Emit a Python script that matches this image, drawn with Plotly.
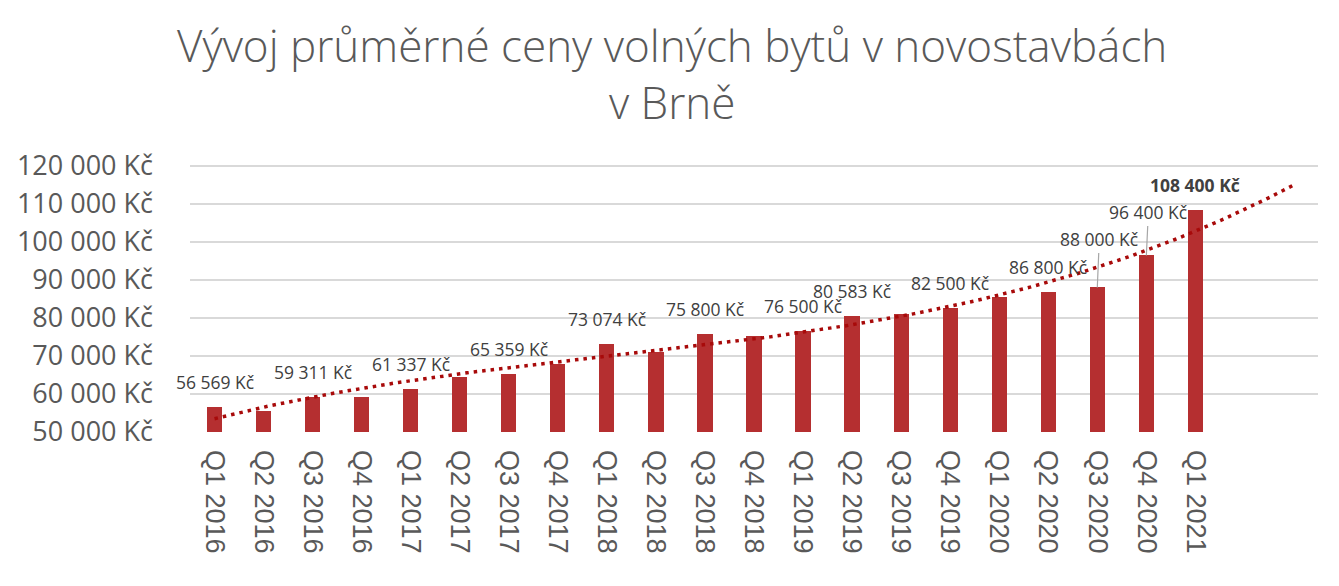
import numpy as np
import plotly.graph_objects as go

categories = ["Q1 2016", "Q2 2016", "Q3 2016", "Q4 2016", "Q1 2017", "Q2 2017", "Q3 2017",
              "Q4 2017", "Q1 2018", "Q2 2018", "Q3 2018", "Q4 2018", "Q1 2019", "Q2 2019",
              "Q3 2019", "Q4 2019", "Q1 2020", "Q2 2020", "Q3 2020", "Q4 2020", "Q1 2021"]
prices = [56569, 55500, 59311, 59300, 61337, 64500, 65359, 67900, 73074, 70900, 75800,
          75300, 76500, 80583, 80900, 82500, 85400, 86800, 88000, 96400, 108400]
labeled = [0, 2, 4, 6, 8, 10, 12, 13, 15, 17, 18, 19, 20]
leader = {18: -48, 19: -43}
bold_label = 20
y_ticks = [50000, 60000, 70000, 80000, 90000, 100000, 110000, 120000]
forecast_periods = 2
title_text = "Vývoj průměrné ceny volných bytů v novostavbách<br>v Brně"


def kc(v):
    return f"{v:,}".replace(",", " ") + " Kč"


xs = np.arange(len(categories))
coef = np.polyfit(xs, prices, 3)
tx = np.linspace(0, len(categories) - 1 + forecast_periods, 300)
ty = np.polyval(coef, tx)

fig = go.Figure()
fig.add_trace(go.Bar(x=xs, y=prices, width=0.31, marker=dict(color="#B52F30", line=dict(width=0)),
                     hoverinfo="skip"))
fig.add_trace(go.Scatter(x=tx, y=ty, mode="lines",
                         line=dict(color="#A80A0A", width=3.5, dash="3.5px,5px"), hoverinfo="skip"))

for i in labeled:
    bold = i == bold_label
    font = dict(family="Open Sans", size=17.5, color="#404040", weight="bold" if bold else "normal")
    if i in leader:
        fig.add_annotation(x=i, y=prices[i], text=kc(prices[i]), showarrow=True, ax=2, ay=leader[i],
                           arrowhead=0, arrowwidth=1.2, arrowcolor="#A6A6A6", standoff=0, font=font)
    else:
        fig.add_annotation(x=i, y=prices[i], text=kc(prices[i]), showarrow=False, yshift=25, font=font)

fig.update_layout(
    width=1339, height=586,
    margin=dict(l=190, r=21, t=163, b=154),
    paper_bgcolor="white", plot_bgcolor="white",
    showlegend=False,
    title=dict(text=title_text, x=0.502, xref="container", xanchor="center",
               y=0.894, yref="container", yanchor="middle",
               font=dict(family="Open Sans", size=44, color="#595959", weight=300)),
    bargap=0,
)
fig.update_xaxes(range=[-0.5, len(categories) - 0.5 + forecast_periods],
                 tickmode="array", tickvals=list(xs), ticktext=categories,
                 tickangle=90, tickfont=dict(family="Liberation Sans", size=27, color="#595959"),
                 showgrid=False, zeroline=False, showline=False, ticks="", ticklabelstandoff=17)
fig.update_yaxes(range=[50000, 120700], tickmode="array", tickvals=y_ticks,
                 ticktext=[kc(v) for v in y_ticks],
                 tickfont=dict(family="Open Sans", size=27, color="#595959"),
                 showgrid=True, gridcolor="#D9D9D9", gridwidth=1.5, zeroline=False,
                 showline=False, ticks="", ticklabelstandoff=36)

fig.write_html("out.html", config={"displayModeBar": False},
               post_script="document.body.style.margin='0px';")
